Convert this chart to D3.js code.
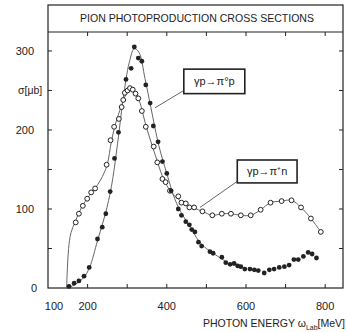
<!DOCTYPE html>
<html><head><meta charset="utf-8">
<script src="https://cdn.jsdelivr.net/npm/d3@7"></script>
<style>body{margin:0;background:#fff}svg{display:block}text{font-family:"Liberation Sans",Arial,sans-serif;fill:#222}</style>
</head><body><div id="c"></div>
<script>
const title = "PION PHOTOPRODUCTION CROSS SECTIONS";
const xTicks = [100, 200, 400, 600, 800];
const xMinor = [200, 300, 400, 500, 600, 700, 800];
const yTicks = [0, 100, 200, 300];
const yMinor = [50, 100, 150, 200, 250, 300];
// gamma p -> pi0 p (filled)
const pi0E = [153,166,178,191,204,225,237,246,257,268,278,297,310,318,328,337,347,358,366,378,389,400,411,429,437,448,457,463,471,480,488,509,517,539,549,560,570,579,587,597,610,621,631,646,659,671,684,697,709,721,732,745,757,767,778];
const pi0S = [2,6,9,15,26,62,77,94,122,164,197,264,278,305,291,287,257,234,205,185,160,145,123,100,92,84,80,74,71,58,53,46,44,39,32,30,31,28,27,24,24,23,22,19,23,24,26,27,29,36,36,40,45,43,38];
// gamma p -> pi+ n (open)
const pipE = [170,178,188,199,209,219,248,258,267,279,286,290,294,301,307,314,321,328,337,347,367,376,389,397,408,429,437,448,457,469,490,515,539,562,587,612,637,662,690,715,739,764,789];
const pipS = [83,94,104,113,121,126,156,187,204,214,229,238,247,250,253,251,246,240,224,204,179,159,138,134,123,116,108,107,102,102,97,92,94,94,92,92,99,108,110,111,102,88,71];
// curves
const c0E = [145,153,170,190,205,225,245,260,275,290,305,318,330,345,360,380,400,420,440,460,480,500,520,550];
const c0S = [0,1,5,13,26,60,94,128,180,240,285,303,298,265,228,180,145,113,92,77,60,50,43,33];
const cpE = [147,149,152,158,168,178,188,199,210,220,232,242,250,260,270,285,300,310,320,332,345,360,375,390,410,430,450,470,490,515,539,562,587,612,637,662,690,715,739,764,789];
const cpS = [0,25,50,70,83,95,105,113,121,127,136,146,157,185,207,230,248,253,248,235,210,185,162,140,122,112,105,101,97,92,94,94,92,92,99,108,110,111,102,88,71];
const labels = ["γp→π°p", "γp→π⁺n"];

const W = 346, H = 332;
const svg = d3.select("#c").append("svg").attr("width", W).attr("height", H);
const x = d3.scaleLinear().domain([100, 845]).range([48, 343]);
const y = d3.scaleLinear().domain([0, 324]).range([288, 32]);
const ink = "#222";

// frame
svg.append("rect").attr("x", 48).attr("y", 5).attr("width", 295).attr("height", 283)
  .attr("fill", "none").attr("stroke", ink).attr("stroke-width", 1.2);
svg.append("line").attr("x1", 48).attr("x2", 343).attr("y1", 32).attr("y2", 32).attr("stroke", ink).attr("stroke-width", 1.2);
svg.append("text").attr("x", 197).attr("y", 22).attr("text-anchor", "middle")
  .attr("font-size", 10.5).attr("textLength", 234).attr("lengthAdjust", "spacingAndGlyphs").text(title);

// ticks
const tk = svg.append("g").attr("stroke", ink).attr("stroke-width", 1);
xMinor.forEach(v => {
  tk.append("line").attr("x1", x(v)).attr("x2", x(v)).attr("y1", 288).attr("y2", 284);
  tk.append("line").attr("x1", x(v)).attr("x2", x(v)).attr("y1", 32).attr("y2", 36);
});
yMinor.forEach(v => {
  tk.append("line").attr("x1", 48).attr("x2", 52).attr("y1", y(v)).attr("y2", y(v));
  tk.append("line").attr("x1", 343).attr("x2", 339).attr("y1", y(v)).attr("y2", y(v));
});
xTicks.forEach(v => {
  svg.append("text").attr("x", x(v) + (v === 100 ? 6 : 0)).attr("y", 310).attr("text-anchor", "middle")
    .attr("font-size", 11).text(v);
});
yTicks.forEach(v => {
  svg.append("text").attr("x", v === 0 ? 37 : 34).attr("y", y(v) + 4).attr("text-anchor", "end")
    .attr("font-size", 11).text(v);
});
svg.append("text").attr("x", 18).attr("y", 94).attr("font-size", 10.5).text("σ[μb]");
const xl = svg.append("text").attr("x", 345).attr("y", 327).attr("text-anchor", "end").attr("font-size", 10.5);
xl.append("tspan").text("PHOTON ENERGY ω");
xl.append("tspan").attr("font-size", 7).attr("dy", 3).text("Lab");
xl.append("tspan").attr("dy", -3).text("[MeV]");

// curves
const line = d3.line().x(d => x(d[0])).y(d => y(d[1])).curve(d3.curveCatmullRom);
svg.append("path").datum(d3.zip(c0E, c0S)).attr("d", line).attr("fill", "none").attr("stroke", "#666").attr("stroke-width", 1);
svg.append("path").datum(d3.zip(cpE, cpS)).attr("d", line).attr("fill", "none").attr("stroke", "#666").attr("stroke-width", 1);

// points
svg.append("g").selectAll("circle").data(d3.zip(pipE, pipS)).join("circle")
  .attr("cx", d => x(d[0])).attr("cy", d => y(d[1])).attr("r", 2.4)
  .attr("fill", "#fff").attr("stroke", ink).attr("stroke-width", 1);
svg.append("g").selectAll("circle").data(d3.zip(pi0E, pi0S)).join("circle")
  .attr("cx", d => x(d[0])).attr("cy", d => y(d[1])).attr("r", 2.4)
  .attr("fill", ink);

// annotation boxes (data coords)
const boxes = [
  {e0: 443, e1: 597, s0: 277, s1: 246, le: 370, ls: 228, ae: 443, as: 250},
  {e0: 578, e1: 729, s0: 162, s1: 133, le: 484, ls: 102, ae: 578, as: 135}
];
boxes.forEach((b, i) => {
  svg.append("line").attr("x1", x(b.le)).attr("y1", y(b.ls)).attr("x2", x(b.ae)).attr("y2", y(b.as))
    .attr("stroke", "#666").attr("stroke-width", 1);
  svg.append("rect").attr("x", x(b.e0)).attr("y", y(b.s0)).attr("width", x(b.e1) - x(b.e0)).attr("height", y(b.s1) - y(b.s0))
    .attr("fill", "#fff").attr("stroke", ink).attr("stroke-width", 1.6);
  svg.append("text").attr("x", (x(b.e0) + x(b.e1)) / 2).attr("y", (y(b.s0) + y(b.s1)) / 2 + 4)
    .attr("text-anchor", "middle").attr("font-size", 11).text(labels[i]);
});
</script></body></html>
